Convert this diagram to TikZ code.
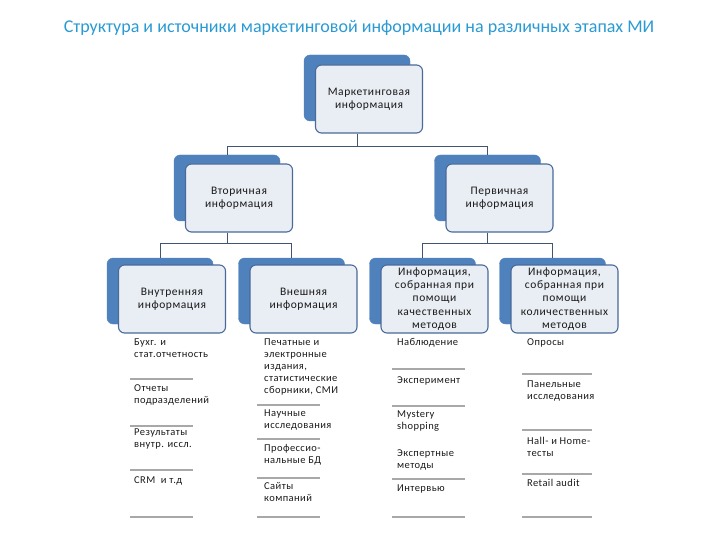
\documentclass[tikz,border=0pt]{standalone}
\usepackage{fontspec}
\setmainfont{Carlito}
\definecolor{backblue}{HTML}{4F81BD}
\definecolor{frontfill}{HTML}{E9EDF4}
\definecolor{frontdraw}{HTML}{4A6A9A}
\definecolor{conn}{HTML}{3F5573}
\definecolor{titleblue}{HTML}{2A9AD3}
\definecolor{sepgray}{HTML}{A8A8A8}
\definecolor{txt}{HTML}{1A1A1A}
\tikzset{
  backbox/.style={draw=backblue, fill=backblue, rounded corners=6pt, minimum width=106pt, minimum height=66pt, inner sep=0pt},
  frontbox/.style={draw=frontdraw, line width=1.1pt, fill=frontfill, rounded corners=6pt, minimum width=107pt, minimum height=68pt, inner sep=0pt, text=txt, font=\fontsize{11.5}{13.2}\selectfont\addfontfeatures{LetterSpace=5}, align=center},
  connector/.style={draw=conn, line width=0.9pt},
  item/.style={anchor=north west, inner sep=0pt, align=left, text=txt, font=\fontsize{10.5}{12}\selectfont\addfontfeatures{LetterSpace=4}},
  sepline/.style={draw=sepgray, line width=1.4pt}
}
\begin{document}
\begin{tikzpicture}[x=1pt,y=-1pt]
\useasboundingbox (0,0) rectangle (720,540);
\node[text=titleblue, font=\fontsize{18}{20}\selectfont] (title) at (359,28) {Структура и источники маркетинговой информации на различных этапах МИ};

% boxes
\node[backbox] (b1) at (357,88) {};
\node[frontbox] (f1) at (369,99) {Маркетинговая\\информация};

\node[backbox] (b2) at (227,188) {};
\node[frontbox] (f2) at (239,198) {Вторичная\\информация};
\node[backbox] (b3) at (487.5,188) {};
\node[frontbox] (f3) at (499.5,198) {Первичная\\информация};

\node[backbox] (b4) at (160,291) {};
\node[frontbox] (f4) at (172,299) {Внутренняя\\информация};
\node[backbox] (b5) at (291.5,291) {};
\node[frontbox] (f5) at (303.5,299) {Внешняя\\информация};
\node[backbox] (b6) at (422.5,291) {};
\node[frontbox] (f6) at (434.5,299) {Информация,\\собранная при\\помощи\\качественных\\методов};
\node[backbox] (b7) at (552.5,291) {};
\node[frontbox] (f7) at (564.5,299) {Информация,\\собранная при\\помощи\\количественных\\методов};

% connectors
\coordinate (j1) at (357,146);
\coordinate (j2) at (227,243);
\coordinate (j3) at (487.5,243);
\draw[connector] (b1 |- f1.south) -- (j1);
\draw[connector] (b2.north) -- (b2.north |- j1) -| (b3.north);
\draw[connector] (b2 |- f2.south) -- (j2);
\draw[connector] (b4.north) -- (b4.north |- j2) -| (b5.north);
\draw[connector] (b3 |- f3.south) -- (j3);
\draw[connector] (b6.north) -- (b6.north |- j3) -| (b7.north);

% column 1
\node[item] (c1a) at (134,339) {Бухг. и\\стат.отчетность};
\node[item] (c1b) at (134,384) {Отчеты\\подразделений};
\node[item] (c1c) at (134,429) {Результаты\\внутр. иссл.};
\node[item] (c1d) at (134,476) {CRM~ и т.д};
\foreach \y in {379,426,470,517} \draw[sepline] (130,\y) -- (193,\y);

% column 2
\node[item] (c2a) at (264,339) {Печатные и\\электронные\\издания,\\статистические\\сборники, СМИ};
\node[item] (c2b) at (264,410) {Научные\\исследования};
\node[item] (c2c) at (264,444) {Профессио-\\нальные БД};
\node[item] (c2d) at (264,482) {Сайты\\компаний};
\foreach \y in {405,439,478,517} \draw[sepline] (257,\y) -- (320,\y);

% column 3
\node[item] (c3a) at (397,338) {Наблюдение};
\node[item] (c3b) at (397,376) {Эксперимент};
\node[item] (c3c) at (397,411) {Mystery\\shopping};
\node[item] (c3d) at (397,449) {Экспертные\\методы};
\node[item] (c3e) at (397,485) {Интервью};
\foreach \y in {369,406,479,517} \draw[sepline] (392,\y) -- (465,\y);

% column 4
\node[item] (c4a) at (527,338) {Опросы};
\node[item] (c4b) at (527,381) {Панельные\\исследования};
\node[item] (c4c) at (527,437) {Hall- и Home-\\тесты};
\node[item] (c4d) at (527,479) {Retail audit};
\foreach \y in {374,430,474,517} \draw[sepline] (522,\y) -- (592,\y);
\end{tikzpicture}
\end{document}
